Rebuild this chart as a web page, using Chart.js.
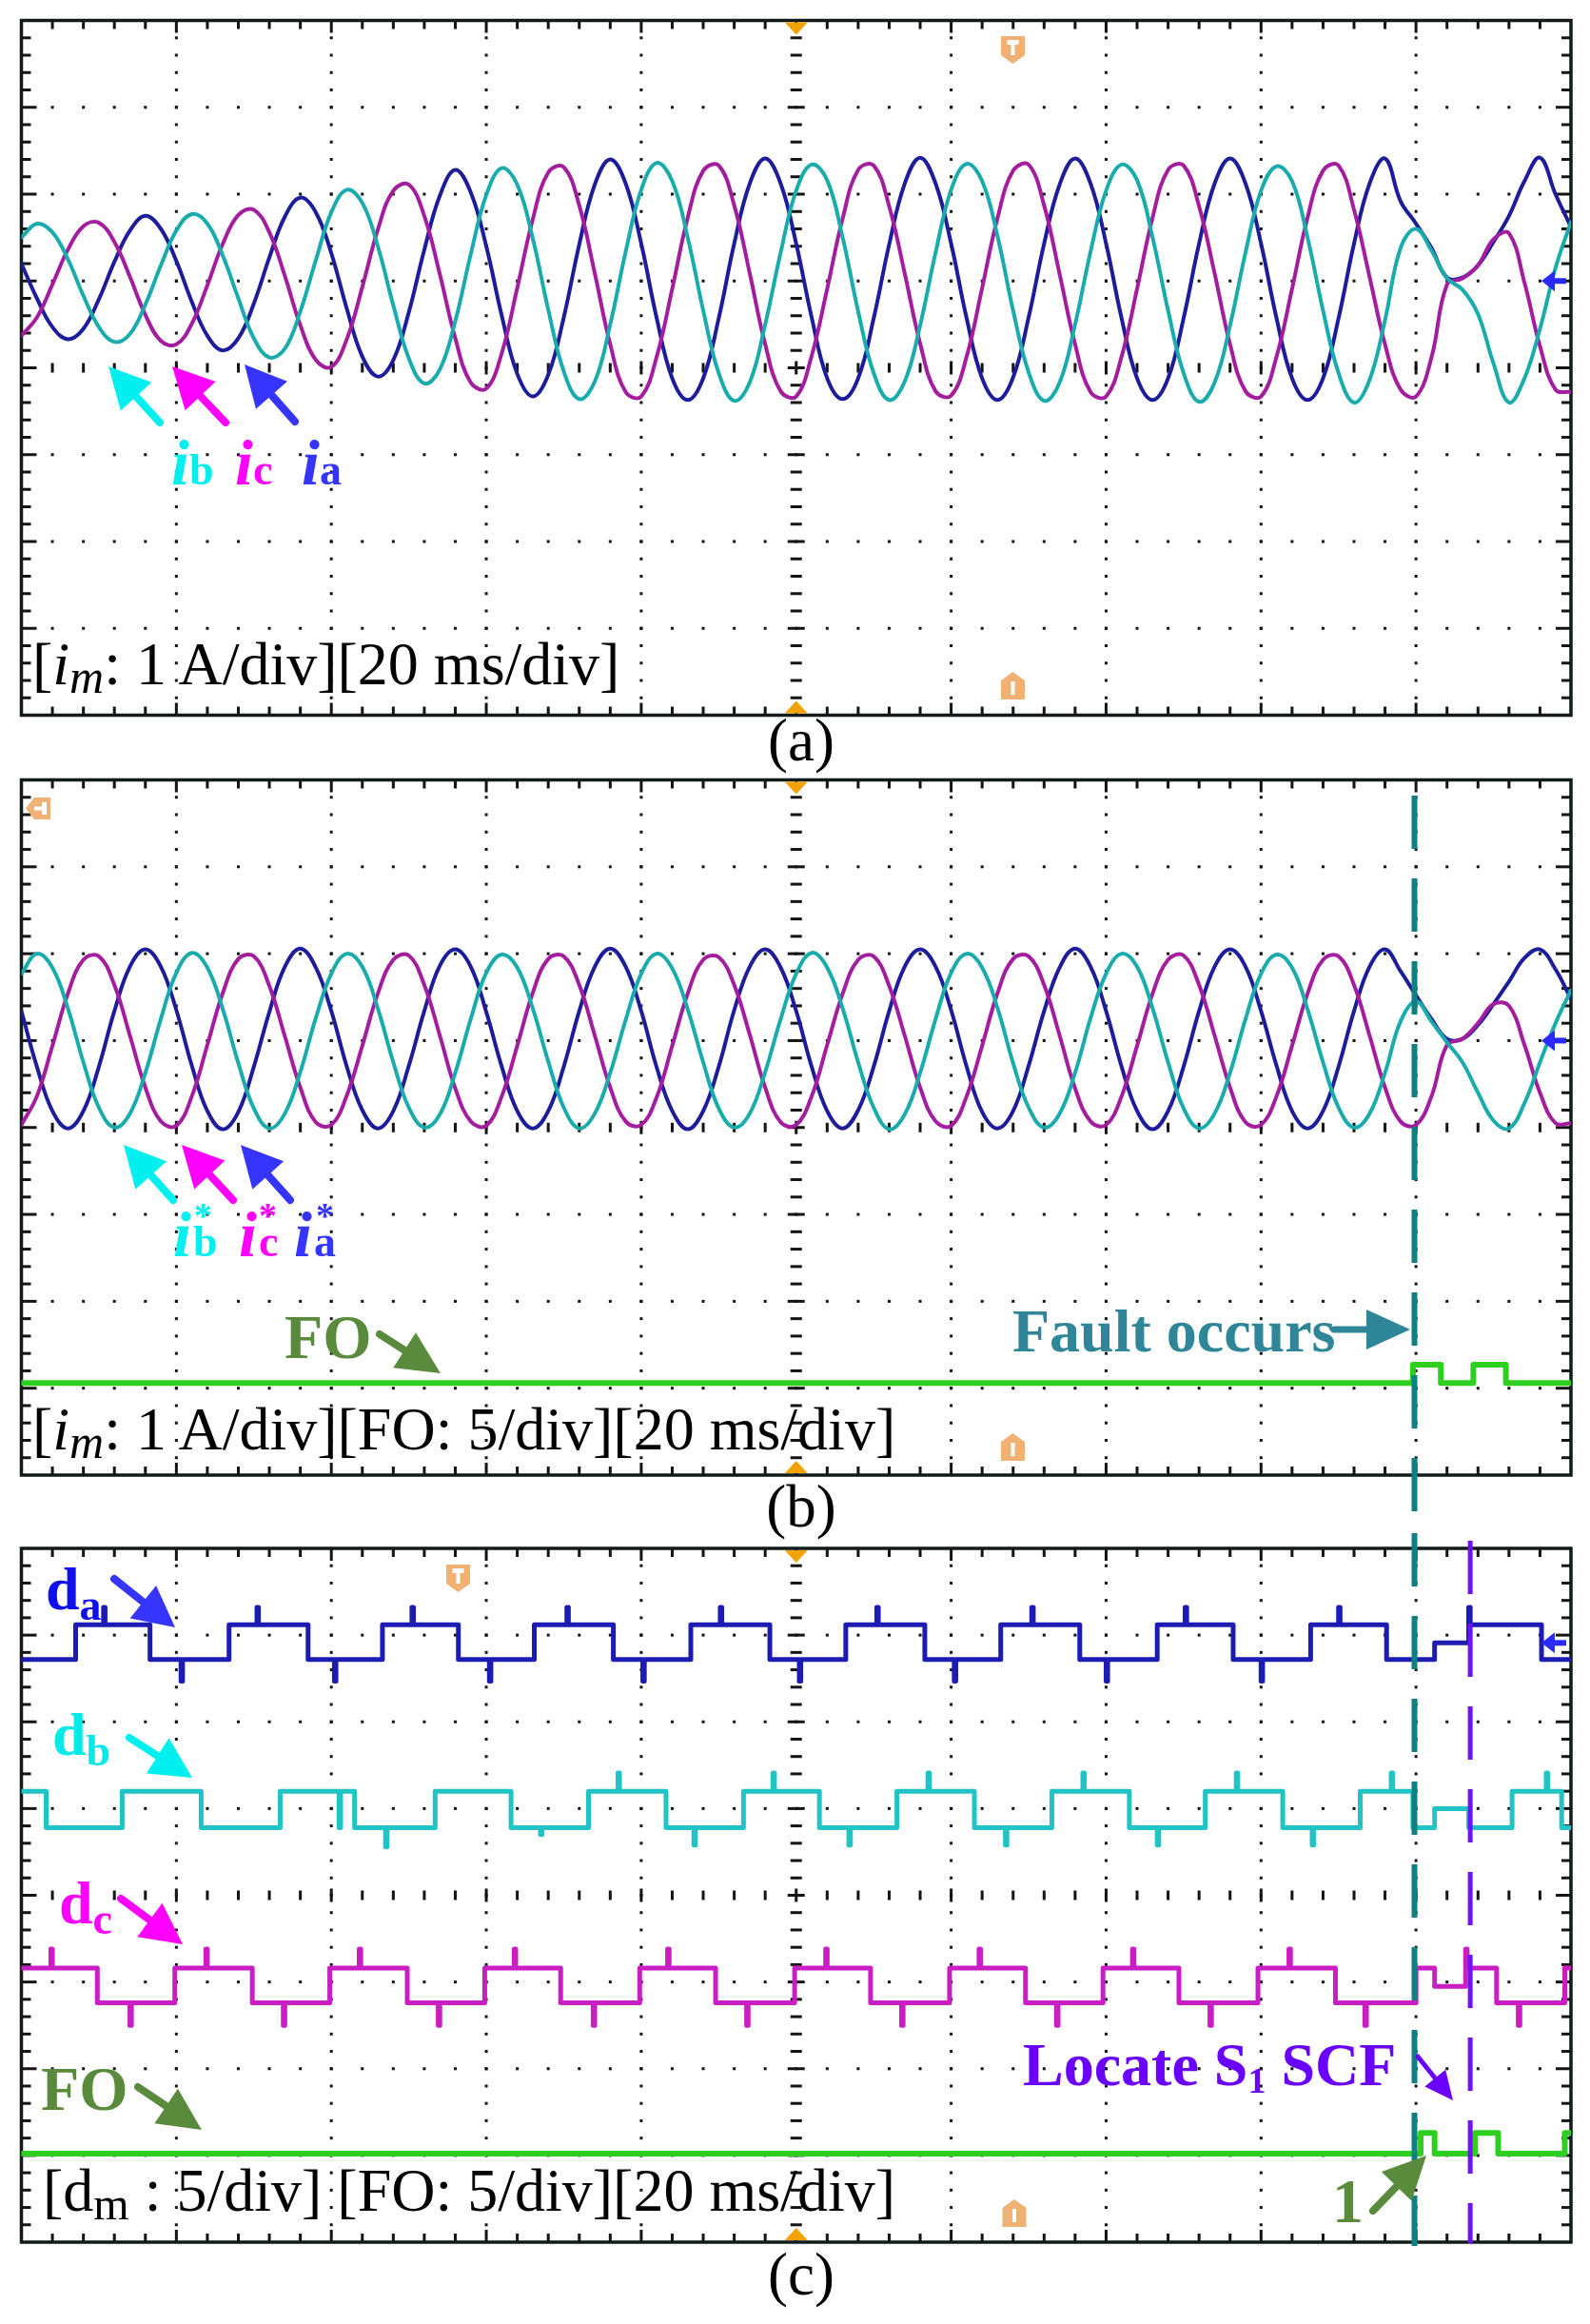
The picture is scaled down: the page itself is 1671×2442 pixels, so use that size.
<!DOCTYPE html>
<html><head><meta charset="utf-8">
<script src="https://cdn.jsdelivr.net/npm/chart.js@4.4.1/dist/chart.umd.min.js"></script>
<style>
html,body{margin:0;padding:0;background:#fff;}
#wrap{position:relative;width:1671px;height:2442px;overflow:hidden;background:#fff;}
canvas{position:absolute;left:0;}
#ov{position:absolute;left:0;top:0;pointer-events:none;}
</style></head><body><div id="wrap">
<canvas id="ca" width="1671" height="800" style="top:0px"></canvas>
<canvas id="cb" width="1671" height="824" style="top:800px"></canvas>
<canvas id="cc" width="1671" height="842" style="top:1600px"></canvas>
<svg id="ov" width="1671" height="2442" xmlns="http://www.w3.org/2000/svg" font-family="'Liberation Serif','Times New Roman',serif">
<g fill="#f0b274">
<polygon points="1052,38 1077,38 1077,58 1064.5,67 1052,58"/>
<polygon points="1064.5,706 1077,715 1077,735 1052,735 1052,715"/>
<polygon points="27,849.5 36,838 53,838 53,861 36,861"/>
<polygon points="1064.5,1506 1077,1515 1077,1535 1052,1535 1052,1515"/>
<polygon points="469,1644 494,1644 494,1664 481.5,1673 469,1664"/>
<polygon points="1066,2311 1078.5,2320 1078.5,2340 1053.5,2340 1053.5,2320"/>
</g>
<g fill="#fff">
<rect x="1058.5" y="42" width="12" height="5"/><rect x="1062.5" y="42" width="4" height="16"/>
<rect x="1062.5" y="716" width="4" height="14"/>
<rect x="44" y="843" width="5" height="13"/><rect x="36" y="847.5" width="13" height="4"/>
<rect x="1062.5" y="1516" width="4" height="14"/>
<rect x="475.5" y="1648" width="12" height="5"/><rect x="479.5" y="1648" width="4" height="16"/>
<rect x="1064" y="2321" width="4" height="14"/>
</g>
<text x="34" y="719" font-size="64">[<tspan font-style="italic">i</tspan><tspan font-style="italic" font-size="50" dy="9">m</tspan><tspan dy="-9">: 1 A/div][20 ms/div]</tspan></text>
<text x="34" y="1523" font-size="64">[<tspan font-style="italic">i</tspan><tspan font-style="italic" font-size="50" dy="9">m</tspan><tspan dy="-9">: 1 A/div][FO: 5/div][20 ms/div]</tspan></text>
<text x="45" y="2323" font-size="64">[d<tspan font-size="48" dy="9">m</tspan><tspan dy="-9"> : 5/div] [FO: 5/div][20 ms/div]</tspan></text>
<text x="842" y="799" font-size="63" text-anchor="middle">(a)</text>
<text x="842" y="1604" font-size="63" text-anchor="middle">(b)</text>
<text x="842" y="2411" font-size="63" text-anchor="middle">(c)</text>
<g font-weight="bold">
<text x="180" y="509" fill="#00f0f0"><tspan font-style="italic" font-size="68">i</tspan><tspan font-size="46">b</tspan></text>
<text x="247" y="509" fill="#ff00ff"><tspan font-style="italic" font-size="68">i</tspan><tspan font-size="46">c</tspan></text>
<text x="317" y="509" fill="#3535ff"><tspan font-style="italic" font-size="68">i</tspan><tspan font-size="46">a</tspan></text>
<text x="182" y="1320" fill="#00f0f0"><tspan font-style="italic" font-size="68">i</tspan><tspan font-size="46" dx="2">b</tspan></text>
<text x="204" y="1290" fill="#00f0f0" font-size="38">*</text>
<text x="251" y="1320" fill="#ff00ff"><tspan font-style="italic" font-size="68">i</tspan><tspan font-size="46" dx="2">c</tspan></text>
<text x="272" y="1290" fill="#ff00ff" font-size="38">*</text>
<text x="309" y="1320" fill="#3535ff"><tspan font-style="italic" font-size="68">i</tspan><tspan font-size="46" dx="2">a</tspan></text>
<text x="332" y="1290" fill="#3535ff" font-size="38">*</text>
<text x="48" y="1691" fill="#1010ee"><tspan font-size="64">d</tspan><tspan font-size="46" dy="11">a</tspan></text>
<text x="55" y="1844" fill="#00eaea"><tspan font-size="64">d</tspan><tspan font-size="46" dy="11">b</tspan></text>
<text x="62" y="2021" fill="#ff00ff"><tspan font-size="64">d</tspan><tspan font-size="46" dy="11">c</tspan></text>
<text x="299" y="1427" font-size="66" fill="#5a8a3c">FO</text>
<text x="43" y="2217" font-size="66" fill="#5a8a3c">FO</text>
<text x="1064" y="1420" font-size="64" fill="#2e8698">Fault occurs</text>
<text x="1075" y="2191" font-size="64" fill="#6a00ff">Locate S<tspan font-size="38" dy="8">1</tspan><tspan dy="-8"> SCF</tspan></text>
<text x="1400" y="2335" font-size="66" fill="#5a8a3c">1</text>
</g>
<g id="arrows"></g>
</svg>
</div>
<script>
// ---------- DATA (time in ms, 20 ms/div; values in screen divisions) ----------
const timeMs = [0,2,4,6,8,10,12,14,16,18,20,22,24,26,28,30,32,34,36,38,40,42,44,46,48,50,52,54,56,58,60,62,64,66,68,70,72,74,76,78,80,82,84,86,88,90,92,94,96,98,100,102,104,106,108,110,112,114,116,118,120,122,124,126,128,130,132,134,136,138,140,142,144,146,148,150,152,154,156,158,160,162,164,166,168,170,172,174,176,178,180,182,184,186,188,190,192,194,196,198,200];

// Panel (a): measured phase currents
const aIb = [1.50,1.66,1.56,1.25,0.83,0.47,0.30,0.39,0.73,1.18,
 1.58,1.77,1.66,1.29,0.80,0.34,0.12,0.22,0.65,1.24,
 1.79,2.05,1.90,1.40,0.72,0.11,-0.18,-0.02,0.54,1.31,
 1.99,2.30,2.11,1.49,0.67,-0.04,-0.36,-0.16,0.50,1.34,
 2.05,2.36,2.15,1.50,0.66,-0.06,-0.38,-0.17,0.50,1.33,
 2.04,2.34,2.16,1.50,0.65,-0.06,-0.37,-0.16,0.49,1.33,
 2.05,2.35,2.15,1.51,0.66,-0.05,-0.38,-0.17,0.50,1.34,
 2.04,2.34,2.16,1.50,0.66,-0.06,-0.39,-0.17,0.49,1.33,
 2.04,2.32,2.15,1.50,0.66,-0.06,-0.40,-0.14,0.55,1.38,
 1.60,1.35,1.03,0.90,0.62,0.05,-0.40,-0.12,0.45,1.15,1.68];
const aIc = [0.37,0.58,0.96,1.36,1.63,1.67,1.45,1.05,0.61,0.31,
 0.27,0.51,0.95,1.43,1.76,1.82,1.56,1.06,0.49,0.09,
 0.01,0.33,0.93,1.59,2.04,2.11,1.75,1.08,0.34,-0.17,
 -0.24,0.17,0.92,1.71,2.25,2.31,1.87,1.09,0.27,-0.28,
 -0.33,0.13,0.91,1.73,2.27,2.33,1.87,1.09,0.27,-0.27,
 -0.33,0.14,0.91,1.72,2.28,2.33,1.86,1.09,0.28,-0.27,
 -0.32,0.13,0.92,1.73,2.27,2.34,1.87,1.08,0.27,-0.28,
 -0.33,0.13,0.91,1.73,2.28,2.33,1.86,1.09,0.27,-0.27,
 -0.33,0.13,0.91,1.73,2.27,2.33,1.82,1.05,0.27,-0.25,
 -0.33,0.12,0.96,1.03,1.18,1.48,1.55,0.98,0.25,-0.25,-0.28];
const aIa = [1.20,0.80,0.47,0.33,0.45,0.79,1.22,1.58,1.75,1.60,
 1.23,0.76,0.37,0.20,0.34,0.74,1.27,1.74,1.96,1.79,
 1.32,0.68,0.13,-0.10,0.09,0.64,1.36,1.98,2.28,2.02,
 1.40,0.60,-0.07,-0.33,-0.08,0.58,1.42,2.11,2.40,2.12,
 1.43,0.57,-0.12,-0.37,-0.12,0.57,1.43,2.12,2.41,2.12,
 1.43,0.58,-0.12,-0.36,-0.12,0.57,1.42,2.12,2.42,2.12,
 1.43,0.57,-0.12,-0.37,-0.11,0.58,1.43,2.11,2.41,2.12,
 1.43,0.57,-0.12,-0.37,-0.12,0.57,1.43,2.12,2.41,2.12,
 1.43,0.57,-0.12,-0.37,-0.12,0.57,1.43,2.12,2.41,1.92,
 1.66,1.38,1.04,1.04,1.18,1.45,1.75,2.15,2.42,2.00,1.62];

// Panel (b): reference currents
const bIb = [1.77,2.00,1.84,1.37,0.75,0.23,0.00,0.16,0.63,1.25,
 1.78,2.01,1.84,1.36,0.74,0.22,-0.01,0.16,0.64,1.26,
 1.77,2.00,1.85,1.37,0.75,0.23,0.00,0.15,0.63,1.25,
 1.78,1.99,1.84,1.37,0.76,0.23,-0.01,0.16,0.63,1.24,
 1.77,2.00,1.83,1.36,0.75,0.22,0.00,0.16,0.64,1.25,
 1.77,2.01,1.84,1.37,0.75,0.23,-0.02,0.15,0.63,1.25,
 1.78,2.00,1.84,1.37,0.74,0.23,0.00,0.16,0.63,1.26,
 1.77,2.00,1.85,1.37,0.75,0.22,-0.01,0.16,0.63,1.25,
 1.77,1.99,1.84,1.36,0.75,0.23,0.00,0.16,0.63,1.22,
 1.45,1.22,0.98,0.75,0.40,0.08,-0.01,0.28,0.75,1.20,1.58];
const bIc = [0.03,0.36,0.94,1.54,1.93,1.97,1.64,1.06,0.46,0.07,
 0.02,0.36,0.95,1.55,1.94,1.97,1.63,1.05,0.46,0.06,
 0.03,0.37,0.94,1.54,1.93,1.98,1.64,1.06,0.45,0.07,
 0.02,0.36,0.94,1.55,1.94,1.97,1.64,1.06,0.46,0.07,
 0.03,0.35,0.94,1.54,1.93,1.96,1.64,1.07,0.46,0.06,
 0.03,0.36,0.95,1.54,1.93,1.97,1.63,1.06,0.46,0.07,
 0.02,0.36,0.94,1.55,1.94,1.97,1.64,1.06,0.45,0.07,
 0.03,0.36,0.94,1.54,1.93,1.98,1.64,1.06,0.46,0.06,
 0.03,0.36,0.94,1.54,1.93,1.97,1.64,1.06,0.46,0.07,
 0.03,0.36,0.95,1.02,1.20,1.42,1.40,0.95,0.40,0.05,0.05];
const bIa = [1.34,0.70,0.19,-0.01,0.19,0.70,1.34,1.85,2.05,1.85,
 1.35,0.71,0.19,-0.02,0.18,0.70,1.33,1.85,2.06,1.84,
 1.34,0.70,0.20,-0.01,0.19,0.71,1.34,1.86,2.05,1.85,
 1.33,0.70,0.19,-0.01,0.19,0.70,1.34,1.85,2.06,1.85,
 1.34,0.69,0.19,-0.02,0.19,0.70,1.35,1.85,2.05,1.84,
 1.34,0.70,0.19,-0.01,0.20,0.70,1.34,1.85,2.05,1.85,
 1.35,0.70,0.18,-0.01,0.19,0.71,1.34,1.84,2.06,1.85,
 1.34,0.70,0.19,-0.02,0.19,0.70,1.34,1.85,2.05,1.85,
 1.34,0.71,0.19,-0.01,0.19,0.70,1.34,1.85,2.05,1.80,
 1.52,1.25,1.02,1.02,1.18,1.42,1.68,1.95,2.05,1.82,1.48];
const bFoT = [0,179.6,183.2,187.4,191.6,200];
const bFoV = [-2.94,-2.73,-2.94,-2.73,-2.94,-2.94];

// Panel (c): duty signals (step levels, change at given times)
const cDaT = [0,7,10.6,10.8,16.6,20.6,20.8,26.8,30.4,30.6,37,40.4,40.6,46.6,50.4,50.6,56.4,60.4,60.6,66.2,70.4,70.6,76.4,80.2,80.4,86.4,90.2,90.4,96.6,100.4,100.6,106.4,110.4,110.6,116.6,120.4,120.6,126.4,130.4,130.6,136.6,140,140.2,146.6,150.2,150.4,156.4,160,160.2,166.4,170,170.2,176.2,182.4,186.8,187,196.2,200];
const cDaV = [2.72,3.12,3.32,3.12,2.72,2.47,2.72,3.12,3.32,3.12,2.72,2.47,2.72,3.12,3.32,3.12,2.72,2.47,2.72,3.12,3.32,3.12,2.72,2.47,2.72,3.12,3.32,3.12,2.72,2.47,2.72,3.12,3.32,3.12,2.72,2.47,2.72,3.12,3.32,3.12,2.72,2.47,2.72,3.12,3.32,3.12,2.72,2.47,2.72,3.12,3.32,3.12,2.72,2.91,3.32,3.12,2.72,2.72];
const cDbT = [0,3.2,13,23.2,33.4,41,41.2,43,47,47.2,53.4,63.2,67,67.2,73.2,77,77.2,83.2,86.8,87,93.2,97,97.2,103,106.8,107,113,117,117.2,123,127,127.2,133,137,137.2,143,146.6,146.8,152.8,156.8,157,162.8,166.6,166.8,172.8,176.8,177,179.6,182.4,186.8,192.4,196.8,197,198.8,200];
const cDbV = [1.20,0.78,1.20,0.78,1.20,0.78,1.20,0.78,0.56,0.78,1.20,0.78,0.70,0.78,1.20,1.41,1.20,0.78,0.58,0.78,1.20,1.41,1.20,0.78,0.58,0.78,1.20,1.41,1.20,0.78,0.58,0.78,1.20,1.41,1.20,0.78,0.58,0.78,1.20,1.41,1.20,0.78,0.58,0.78,1.20,1.41,1.20,0.78,1.00,0.78,1.20,1.41,1.20,0.78,0.78];
const cDcT = [0,3.8,4,9.8,14,14.2,19.8,23.8,24,29.8,33.8,34,39.8,43.6,43.8,49.8,53.8,54,59.8,63.6,63.8,69.6,73.8,74,79.8,83.4,83.6,89.6,93.6,93.8,99.8,103.8,104,109.6,113.6,113.8,119.8,123.6,123.8,129.6,133.6,133.8,139.6,143.4,143.6,149.4,153.4,153.6,159.6,163.6,163.8,169.6,173.4,173.6,180,182.4,186.4,186.6,190.4,193.2,193.4,199.2,200];
const cDcV = [-0.84,-0.62,-0.84,-1.24,-1.50,-1.24,-0.84,-0.62,-0.84,-1.24,-1.50,-1.24,-0.84,-0.62,-0.84,-1.24,-1.50,-1.24,-0.84,-0.62,-0.84,-1.24,-1.50,-1.24,-0.84,-0.62,-0.84,-1.24,-1.50,-1.24,-0.84,-0.62,-0.84,-1.24,-1.50,-1.24,-0.84,-0.62,-0.84,-1.24,-1.50,-1.24,-0.84,-0.62,-0.84,-1.24,-1.50,-1.24,-0.84,-0.62,-0.84,-1.24,-1.50,-1.24,-0.84,-1.05,-0.62,-0.84,-1.24,-1.50,-1.24,-0.84,-0.84];
const cFoT = [0,180.6,182.4,187.6,190.6,199.2,200];
const cFoV = [-2.98,-2.74,-2.98,-2.74,-2.98,-2.74,-2.74];

const faultMs = 179.8;   // "Fault occurs"
const locateMs = 187.0;  // "Locate S1 SCF"

// ---------- helpers ----------
const pair = (ts, vs) => ts.map((t, i) => ({x: t, y: vs[i]}));

const scopeGrid = {
  id: 'scopeGrid',
  beforeDatasetsDraw(chart) {
    const {ctx, chartArea: a, scales: {x, y}} = chart;
    const X = v => x.getPixelForValue(v), Y = v => y.getPixelForValue(v);
    ctx.save();
    ctx.fillStyle = '#141414';
    for (let i = 1; i < 10; i++) {
      if (i === 5) continue;
      const px = X(i * 20);
      for (let j = 1; j < 40; j++) { const py = Y(-4 + j * 0.2); ctx.fillRect(px - 1.5, py - 1.5, 3, 3); }
    }
    for (let j = 1; j < 8; j++) {
      if (j === 4) continue;
      const py = Y(-4 + j);
      for (let i = 1; i < 50; i++) { const px = X(i * 4); ctx.fillRect(px - 1.5, py - 1.5, 3, 3); }
    }
    const cx = X(100), cy = Y(0);
    for (let j = 1; j < 40; j++) { const py = Y(-4 + j * 0.2); const w = (j % 5 === 0) ? 18 : 12; ctx.fillRect(cx - w / 2, py - 1.5, w, 3); }
    for (let i = 1; i < 50; i++) { const px = X(i * 4); const h = (i % 5 === 0) ? 14 : 10; ctx.fillRect(px - 1.5, cy - h / 2, 3, h); }
    for (let i = 1; i < 50; i++) {
      const px = X(i * 4); const h = (i % 5 === 0) ? 13 : 9;
      ctx.fillRect(px - 1.5, a.top, 3, h); ctx.fillRect(px - 1.5, a.bottom - h, 3, h);
    }
    for (let j = 1; j < 40; j++) {
      const py = Y(-4 + j * 0.2); const w = (j % 5 === 0) ? 16 : 10;
      ctx.fillRect(a.left, py - 1.5, w, 3); ctx.fillRect(a.right - w, py - 1.5, w, 3);
    }
    ctx.strokeStyle = '#121a1a'; ctx.lineWidth = 3.5;
    ctx.strokeRect(a.left, a.top, a.right - a.left, a.bottom - a.top);
    ctx.restore();
  },
  afterDatasetsDraw(chart, args, opts) {
    const {ctx, chartArea: a, scales: {x, y}} = chart;
    ctx.save();
    const cx = x.getPixelForValue(100);
    ctx.fillStyle = '#f2a300';
    ctx.beginPath(); ctx.moveTo(cx - 12, a.top + 2); ctx.lineTo(cx + 12, a.top + 2); ctx.lineTo(cx, a.top + 15); ctx.closePath(); ctx.fill();
    ctx.beginPath(); ctx.moveTo(cx - 12, a.bottom - 2); ctx.lineTo(cx + 12, a.bottom - 2); ctx.lineTo(cx, a.bottom - 15); ctx.closePath(); ctx.fill();
    if (opts.ground !== undefined) {
      const gy = y.getPixelForValue(opts.ground), rx = a.right - 5;
      ctx.fillStyle = '#2a2aff';
      ctx.beginPath(); ctx.moveTo(rx - 26, gy); ctx.lineTo(rx - 12, gy - 11); ctx.lineTo(rx - 12, gy + 11); ctx.closePath(); ctx.fill();
      ctx.fillRect(rx - 14, gy - 3, 14, 6);
    }
    (opts.lines || []).forEach(L => {
      const px = x.getPixelForValue(L.t);
      ctx.strokeStyle = L.color; ctx.lineWidth = L.w; ctx.setLineDash([56, 31]); ctx.lineDashOffset = 0;
      ctx.beginPath(); ctx.moveTo(px, L.y0); ctx.lineTo(px, L.y1); ctx.stroke();
    });
    ctx.restore();
  }
};

function scopeChart(id, datasets, padTop, padBottom, opts) {
  return new Chart(document.getElementById(id), {
    type: 'line',
    data: {datasets},
    options: {
      responsive: false, animation: false, devicePixelRatio: 1,
      layout: {padding: {left: 22.5, right: 20, top: padTop, bottom: padBottom}},
      plugins: {legend: {display: false}, tooltip: {enabled: false}, scopeGrid: opts},
      scales: {
        x: {type: 'linear', min: 0, max: 200, display: false},
        y: {type: 'linear', min: -4, max: 4, display: false}
      },
      elements: {point: {radius: 0}, line: {borderCapStyle: 'round', borderJoinStyle: 'round'}}
    },
    plugins: [scopeGrid]
  });
}

const CYAN = '#1aacac', MAG = '#a41d9e', BLUE = '#1d1d9c';
const wave = (label, vals, color) => ({label, data: pair(timeMs, vals), borderColor: color, borderWidth: 4, tension: 0.4, fill: false});
const step = (label, ts, vs, color, w) => ({label, data: pair(ts, vs), borderColor: color, borderWidth: w, stepped: true, fill: false});

scopeChart('ca', [
  wave('ib', aIb, CYAN), wave('ic', aIc, MAG), wave('ia', aIa, BLUE)
], 21.5, 48.5, {ground: 1.0});

scopeChart('cb', [
  step('FO', bFoT, bFoV, '#2fcf22', 6),
  Object.assign(step('FO', bFoT, bFoV, '#17781a', 3), {borderDash: [9, 13]}),
  wave('ib*', bIb, CYAN), wave('ic*', bIc, MAG), wave('ia*', bIa, BLUE)
], 19.5, 74, {ground: 1.0, lines: [{t: faultMs, color: '#0e8082', w: 6, y0: 36, y1: 808}]});

scopeChart('cc', [
  step('FO', cFoT, cFoV, '#2fcf22', 6),
  Object.assign(step('FO', cFoT, cFoV, '#17781a', 3), {borderDash: [9, 13]}),
  step('da', cDaT, cDaV, '#1c1cb4', 5),
  step('db', cDbT, cDbV, '#20c4c4', 5),
  step('dc', cDcT, cDcV, '#c81ec4', 5)
], 27, 86, {ground: 2.91, lines: [
  {t: faultMs, color: '#0e8082', w: 6, y0: 11, y1: 760},
  {t: locateMs, color: '#7010ff', w: 5, y0: 19, y1: 757}
]});

// ---------- annotation arrows (SVG) ----------
const arrowList = [
  [168,444,114,385,'#00f0f0',8,43,44],[237,444,181,385,'#ff00ff',8,43,44],[310,443,257,383,'#3535ff',8,43,44],
  [182,1261,130,1203,'#00f0f0',8,43,44],[245,1261,191,1203,'#ff00ff',8,43,44],[305,1261,253,1203,'#3535ff',8,43,44],
  [399,1402,463,1443,'#5a8a3c',8,45,44],[1402,1397,1482,1397,'#2e8698',7,46,42],
  [120,1659,184,1710,'#3535ff',8,43,44],[136,1826,202,1868,'#00f0f0',8,43,44],[127,1995,192,2043,'#ff00ff',8,43,44],
  [145,2193,212,2238,'#5a8a3c',8,45,44],[1490,2161,1527,2207,'#6a00ff',5,30,28],[1443,2323,1499,2265,'#5a8a3c',8,45,44]
];
const NS = 'http://www.w3.org/2000/svg', g = document.getElementById('arrows');
arrowList.forEach(([x1, y1, x2, y2, c, w, hl, hw]) => {
  const dx = x2 - x1, dy = y2 - y1, L = Math.hypot(dx, dy), ux = dx / L, uy = dy / L;
  const bx = x2 - ux * hl, by = y2 - uy * hl;
  const ln = document.createElementNS(NS, 'line');
  ln.setAttribute('x1', x1); ln.setAttribute('y1', y1); ln.setAttribute('x2', bx + ux * 3); ln.setAttribute('y2', by + uy * 3);
  ln.setAttribute('stroke', c); ln.setAttribute('stroke-width', w); ln.setAttribute('stroke-linecap', 'round');
  g.appendChild(ln);
  const pg = document.createElementNS(NS, 'polygon');
  pg.setAttribute('points', `${x2},${y2} ${bx - uy * hw / 2},${by + ux * hw / 2} ${bx + uy * hw / 2},${by - ux * hw / 2}`);
  pg.setAttribute('fill', c);
  g.appendChild(pg);
});
</script>
</body></html>
